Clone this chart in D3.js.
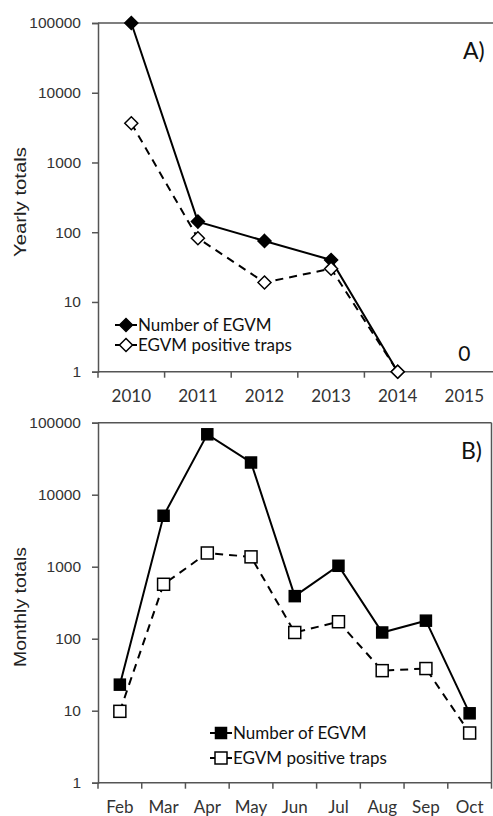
<!DOCTYPE html>
<html>
<head>
<meta charset="utf-8">
<script src="https://cdn.jsdelivr.net/npm/d3@7"></script>
<style>
  html, body { margin: 0; padding: 0; background: #fff; }
  svg { display: block; }
</style>
</head>
<body>
<svg id="chart" width="493" height="816"></svg>
<script>
// ---------- DATA ----------
const years = ["2010", "2011", "2012", "2013", "2014", "2015"];
const yearlyEGVM = [100000, 142, 75, 40, 1, null];
const yearlyTraps = [3650, 82, 19, 30, 1, null];
const yearlyZeroLabel = { year: "2015", text: "0" };

const months = ["Feb", "Mar", "Apr", "May", "Jun", "Jul", "Aug", "Sep", "Oct"];
const monthlyEGVM = [23, 5100, 69000, 28000, 390, 1030, 122, 178, 9.2];
const monthlyTraps = [9.8, 570, 1550, 1370, 122, 172, 36, 38.5, 4.9];

const yTicks = [1, 10, 100, 1000, 10000, 100000];
const seriesNames = ["Number of EGVM", "EGVM positive traps"];

// ---------- DRAW ----------
const svg = d3.select("#chart");
const axisColor = "#555";
const textColor = "#333";
const tickFont = "Arial, 'Liberation Sans', sans-serif";
const labelFont = "Lato, 'Open Sans', sans-serif";

function panel(opts) {
  const g = svg.append("g");
  const x = d3.scaleBand().domain(opts.cats).range([opts.left, opts.right]).padding(0);
  const y = d3.scaleLog().domain([1, 100000]).range([opts.bottom, opts.top]);

  g.append("line").attr("x1", opts.left).attr("x2", opts.lineRight)
    .attr("y1", y(100000)).attr("y2", y(100000))
    .attr("stroke", axisColor).attr("stroke-width", 1.5);
  if (opts.box) {
    g.append("line").attr("x1", opts.right).attr("x2", opts.right)
      .attr("y1", opts.top).attr("y2", opts.bottom)
      .attr("stroke", axisColor).attr("stroke-width", 1.5);
  }

  const yAxis = d3.axisLeft(y).tickValues(yTicks).tickFormat(d3.format("d")).tickSize(6).tickPadding(11);
  const ya = g.append("g").attr("transform", `translate(${opts.left},0)`).call(yAxis);
  ya.select(".domain").attr("stroke", axisColor).attr("stroke-width", 1.5);
  ya.selectAll(".tick line").attr("stroke", axisColor).attr("stroke-width", 1.5);
  ya.selectAll(".tick text").attr("fill", textColor).style("font-family", tickFont).style("font-size", "15.5px");

  g.append("line").attr("x1", opts.left).attr("x2", opts.lineRight)
    .attr("y1", opts.bottom).attr("y2", opts.bottom)
    .attr("stroke", axisColor).attr("stroke-width", 1.5);
  const bounds = opts.cats.map(c => x(c)).concat([x(opts.cats[opts.cats.length - 1]) + x.bandwidth()]);
  g.selectAll(".xt").data(bounds).enter().append("line")
    .attr("x1", d => d).attr("x2", d => d)
    .attr("y1", opts.bottom).attr("y2", opts.bottom + 6)
    .attr("stroke", axisColor).attr("stroke-width", 1.5);
  g.selectAll(".xl").data(opts.cats).enter().append("text")
    .attr("x", d => x(d) + x.bandwidth() / 2)
    .attr("y", opts.bottom + opts.xLabelDy)
    .attr("text-anchor", "middle")
    .attr("fill", textColor)
    .style("font-family", labelFont).style("font-size", opts.xFont)
    .text(d => d);

  g.append("text")
    .attr("transform", `translate(25.5,${opts.titleY}) rotate(-90)`)
    .attr("text-anchor", "middle")
    .attr("fill", "#222")
    .attr("textLength", opts.titleLen).attr("lengthAdjust", "spacingAndGlyphs")
    .style("font-family", tickFont).style("font-size", "17px")
    .text(opts.title);

  g.append("text").attr("x", opts.letterX).attr("y", opts.letterY)
    .attr("fill", "#111").style("font-family", labelFont).style("font-size", "23px")
    .text(opts.letter);

  const cx = d => x(d) + x.bandwidth() / 2;

  function marker(sel, filled) {
    if (opts.shape === "diamond") {
      const s = 6.5;
      sel.append("path").attr("d", `M0,${-s}L${s},0L0,${s}L${-s},0Z`)
        .attr("fill", filled ? "#000" : "#fff").attr("stroke", "#000").attr("stroke-width", 1.5);
    } else {
      const s = filled ? 5.5 : 6;
      sel.append("rect").attr("x", -s).attr("y", -s).attr("width", 2 * s).attr("height", 2 * s)
        .attr("fill", filled ? "#000" : "#fff").attr("stroke", "#000").attr("stroke-width", 1.5);
    }
  }

  function series(vals, filled) {
    const pts = opts.cats.map((c, i) => ({ c, v: vals[i] })).filter(p => p.v != null);
    const line = d3.line().x(p => cx(p.c)).y(p => y(p.v));
    g.append("path").datum(pts).attr("d", line)
      .attr("fill", "none").attr("stroke", "#000").attr("stroke-width", 2)
      .attr("stroke-dasharray", filled ? null : "8,6");
    pts.forEach(p => {
      const m = g.append("g").attr("transform", `translate(${cx(p.c)},${y(p.v)})`);
      marker(m, filled);
    });
  }
  series(opts.a, true);
  series(opts.b, false);

  const lg = g.append("g").attr("transform", `translate(${opts.legX},${opts.legY})`);
  seriesNames.forEach((name, i) => {
    const row = lg.append("g").attr("transform", `translate(0,${i * opts.legGap})`);
    row.append("line").attr("x1", 0).attr("x2", 22).attr("y1", 0).attr("y2", 0)
      .attr("stroke", "#000").attr("stroke-width", 2);
    const m = row.append("g").attr("transform", "translate(11,0)");
    marker(m, i === 0);
    row.append("text").attr("x", 23).attr("y", 0).attr("dy", "0.35em")
      .attr("fill", "#111").style("font-family", labelFont).style("font-size", "17px")
      .text(name);
  });

  return { g, x, y, cx };
}

const A = panel({
  cats: years, left: 98, right: 98 + 6 * 66.6, lineRight: 493,
  top: 23, bottom: 371.7, box: false,
  a: yearlyEGVM, b: yearlyTraps, shape: "diamond",
  title: "Yearly totals", titleY: 202, titleLen: 110,
  letter: "A)", letterX: 463, letterY: 59,
  xLabelDy: 30, xFont: "17px",
  legX: 115, legY: 325, legGap: 20
});
A.g.append("text")
  .attr("x", A.cx(yearlyZeroLabel.year)).attr("y", 361)
  .attr("text-anchor", "middle").attr("fill", "#111")
  .style("font-family", labelFont).style("font-size", "21px")
  .text(yearlyZeroLabel.text);

const B = panel({
  cats: months, left: 98, right: 491.5, lineRight: 491.5,
  top: 422.7, bottom: 782.7, box: true,
  a: monthlyEGVM, b: monthlyTraps, shape: "square",
  title: "Monthly totals", titleY: 607, titleLen: 120,
  letter: "B)", letterX: 461, letterY: 459,
  xLabelDy: 30, xFont: "17px",
  legX: 210, legY: 733, legGap: 25
});
</script>
</body>
</html>
